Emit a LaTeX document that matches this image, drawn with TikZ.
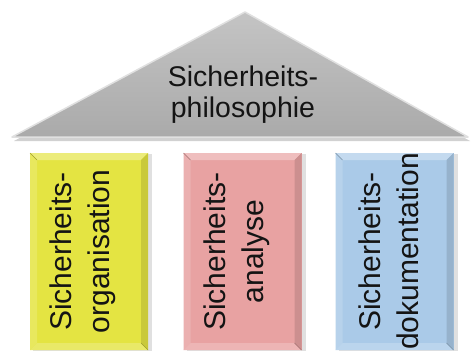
\documentclass[tikz,border=0pt]{standalone}
\usepackage{fontspec}
\setmainfont{Liberation Sans}
\definecolor{yel}{RGB}{228,228,66}
\definecolor{pnk}{RGB}{232,162,162}
\definecolor{blu}{RGB}{170,202,232}
\definecolor{tritop}{RGB}{196,196,196}
\definecolor{tribot}{RGB}{170,170,170}
\definecolor{txt}{RGB}{20,20,20}
\begin{document}
\begin{tikzpicture}[x=1pt,y=-1pt,
  lbl/.style={font=\fontsize{28.5}{31}\selectfont, align=center, text=txt, inner sep=0pt},
  vlbl/.style={font=\fontsize{30}{38}\selectfont, align=center, text=txt, inner sep=0pt, rotate=90},
  pillar/.style={minimum width=118pt, minimum height=197pt, inner sep=0pt, outer sep=0pt}]
\useasboundingbox[fill=white] (0,0) rectangle (471,351);
% roof
\coordinate (apex) at (245,12);
\coordinate (bl) at (12,137);
\coordinate (br) at (468,137);
\fill[black!18] ([shift={(2,4)}]bl) -- ([shift={(0,3)}]apex) -- ([shift={(2,4)}]br) -- cycle;
\shade[top color=tritop, bottom color=tribot] (bl) -- (apex) -- (br) -- cycle;
\draw[white!88!black, line width=1.5pt, line join=round] (bl) -- (apex) -- (br) -- cycle;
\node[lbl] (roof) at (243,95) {Sicherheits-\\philosophie};
% pillars
\node[pillar] (org) at (89,251.5) {};
\node[pillar] (ana) at (242.5,251.5) {};
\node[pillar] (dok) at (394.5,251.5) {};
\foreach \n/\c in {org/yel, ana/pnk, dok/blu}{
  \fill[black!12] ([shift={(3,1)}]\n.north west) rectangle ([shift={(4,1)}]\n.south east);
  \fill[\c] (\n.north west) rectangle (\n.south east);
  \fill[\c!70!white] (\n.north west) -- (\n.north east) -- ([shift={(-7,7)}]\n.north east) -- ([shift={(7,7)}]\n.north west) -- cycle;
  \fill[\c!85!white] (\n.north west) -- ([shift={(7,7)}]\n.north west) -- ([shift={(7,-7)}]\n.south west) -- (\n.south west) -- cycle;
  \fill[\c!80!white] (\n.south west) -- ([shift={(7,-7)}]\n.south west) -- ([shift={(-7,-7)}]\n.south east) -- (\n.south east) -- cycle;
  \fill[\c!88!black] (\n.north east) -- ([shift={(-7,7)}]\n.north east) -- ([shift={(-7,-7)}]\n.south east) -- (\n.south east) -- cycle;
  \draw[\c!70!black, line width=0.5pt] (\n.north west) -- ([shift={(7,7)}]\n.north west);
  \draw[\c!70!black, line width=0.5pt] (\n.south east) -- ([shift={(-7,-7)}]\n.south east);
}
\node[vlbl] (orgt) at ([xshift=-6]org.center) {Sicherheits-\\organisation};
\node[vlbl] (anat) at ([xshift=-6]ana.center) {Sicherheits-\\analyse};
\node[vlbl] (dokt) at ([xshift=-6]dok.center) {Sicherheits-\\dokumentation};
\end{tikzpicture}
\end{document}
